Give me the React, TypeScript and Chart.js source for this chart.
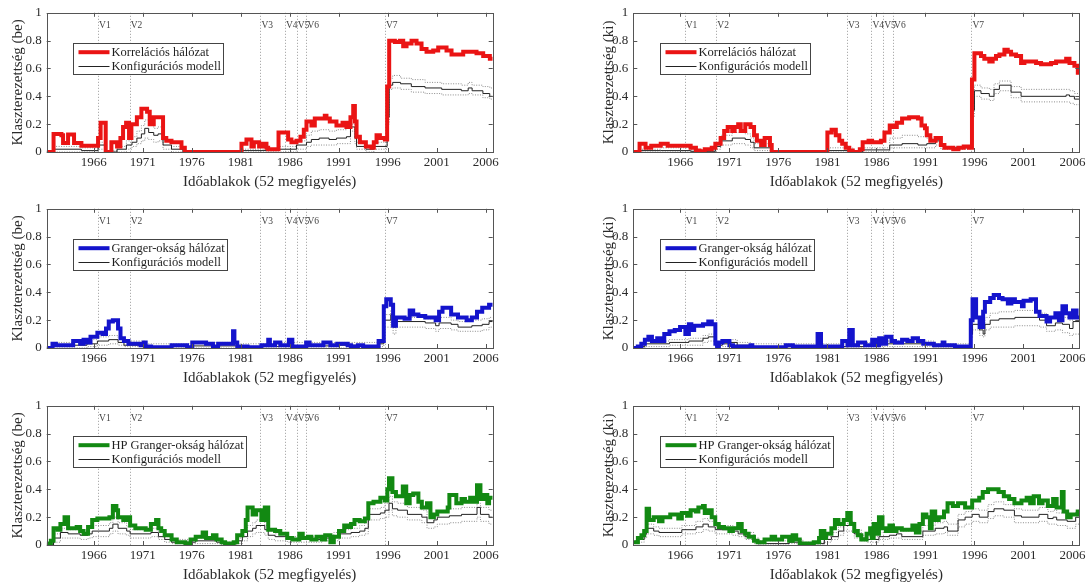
import React, { useEffect, useRef } from 'react';
import { Chart, registerables } from 'chart.js';

Chart.register(...registerables);

// ---------- shared axis data ----------
const TICK_YEARS = [1966, 1971, 1976, 1981, 1986, 1991, 1996, 2001, 2006];
const Y_TICKS = [0, 0.2, 0.4, 0.6, 0.8, 1];
const EVENT_YEARS = [1966.44, 1969.67, 1983.0, 1985.5, 1986.7, 1987.7, 1995.7];
const EVENT_LABELS = ['V1', 'V2', 'V3', 'V4', 'V5', 'V6', 'V7'];
const X_MIN = 1961.2;
const X_MAX = 2006.7;
const X_TITLE = 'Időablakok (52 megfigyelés)';
const MODEL_LABEL = 'Konfigurációs modell';

// ---------- series: [year, value] (value holds until next year) ----------
const CORR_BE: number[][] = [
  [1961.2, 0], [1961.9, 0.13], [1962.7, 0.12], [1962.87, 0.065], [1963.38, 0.125], [1963.99, 0.065],
  [1964.74, 0.045], [1966.44, 0.1], [1966.7, 0.21], [1967.22, 0], [1967.8, 0.07], [1968.38, 0.04],
  [1968.72, 0.1], [1968.99, 0.18], [1969.3, 0.21], [1969.6, 0.1], [1969.84, 0.2], [1970.4, 0.25],
  [1970.86, 0.31], [1971.44, 0.29], [1971.71, 0.2], [1972.12, 0.25], [1973.07, 0.1], [1973.4, 0.08],
  [1973.93, 0.07], [1974.95, 0.03], [1975.29, 0], [1981.07, 0.06], [1981.58, 0.09], [1982.09, 0.04],
  [1982.33, 0.07], [1982.87, 0.04], [1983.21, 0.06], [1983.62, 0.03], [1983.79, 0.02], [1984.85, 0.14],
  [1985.83, 0.09], [1986.17, 0.07], [1986.68, 0.08], [1987.09, 0.11], [1987.43, 0.16], [1987.7, 0.22],
  [1988.21, 0.19], [1988.55, 0.24], [1989.57, 0.26], [1989.74, 0.24], [1990.08, 0.22], [1990.76, 0.19],
  [1991.38, 0.21], [1991.78, 0.18], [1992.19, 0.25], [1992.47, 0.33], [1992.64, 0.22], [1992.81, 0.11],
  [1993.15, 0.07], [1993.76, 0.04], [1994.34, 0.03], [1994.57, 0.07], [1994.85, 0.12], [1995.19, 0.1],
  [1995.7, 0.09], [1995.93, 0.47], [1996.14, 0.8], [1996.72, 0.79], [1997.23, 0.8], [1997.57, 0.76],
  [1997.91, 0.78], [1998.42, 0.8], [1998.93, 0.78], [1999.44, 0.74], [1999.95, 0.72], [2000.63, 0.73],
  [2001.14, 0.75], [2001.99, 0.73], [2002.5, 0.7], [2003.69, 0.72], [2005.05, 0.71], [2005.73, 0.69],
  [2006.41, 0.67], [2006.7, 0.67],
];
// model rows: [year, mean, lower, upper]
const CORR_BE_MODEL: number[][] = [
  [1961.2, 0, 0, 0], [1961.9, 0.02, 0, 0.04], [1964.74, 0.01, 0, 0.03], [1966.44, 0.05, 0.02, 0.07],
  [1967.22, 0, 0, 0.01], [1968.38, 0.02, 0, 0.04], [1969.33, 0.05, 0.02, 0.08], [1969.9, 0.07, 0.04, 0.11],
  [1970.4, 0.1, 0.06, 0.15], [1970.86, 0.13, 0.08, 0.19], [1971.2, 0.17, 0.1, 0.23], [1971.6, 0.14, 0.09, 0.2],
  [1972.12, 0.12, 0.07, 0.17], [1972.56, 0.13, 0.08, 0.18], [1973.07, 0.05, 0.02, 0.08], [1973.93, 0.02, 0, 0.04],
  [1975.1, 0, 0, 0], [1981.07, 0.01, 0, 0.02], [1984.85, 0.02, 0, 0.04], [1986.68, 0.05, 0.02, 0.08],
  [1987.7, 0.07, 0.04, 0.12], [1988.2, 0.09, 0.05, 0.15], [1989.0, 0.1, 0.05, 0.16], [1990.0, 0.09, 0.05, 0.15],
  [1990.76, 0.1, 0.06, 0.16], [1991.78, 0.11, 0.06, 0.17], [1992.19, 0.18, 0.15, 0.2], [1992.64, 0.1, 0.06, 0.15],
  [1992.81, 0.04, 0.02, 0.07], [1993.76, 0.02, 0, 0.04], [1994.57, 0.04, 0.02, 0.07], [1995.93, 0.25, 0.2, 0.3],
  [1996.14, 0.48, 0.45, 0.53], [1996.5, 0.5, 0.46, 0.55], [1997.3, 0.49, 0.45, 0.53], [1998.4, 0.47, 0.43, 0.52],
  [1999.8, 0.46, 0.42, 0.5], [2001.5, 0.45, 0.41, 0.49], [2003.5, 0.44, 0.41, 0.48], [2004.2, 0.46, 0.42, 0.5],
  [2004.6, 0.44, 0.41, 0.48], [2005.7, 0.42, 0.39, 0.47], [2006.4, 0.4, 0.38, 0.46], [2006.7, 0.4, 0.38, 0.46],
];

const CORR_KI: number[][] = [
  [1961.1, 0], [1961.84, 0.06], [1962.45, 0.03], [1963.03, 0.045], [1964.0, 0.06], [1964.71, 0.045],
  [1967.05, 0.03], [1967.59, 0.01], [1967.95, 0.005], [1968.49, 0.02], [1969.2, 0.03], [1969.57, 0.06],
  [1970.11, 0.1], [1970.47, 0.15], [1970.83, 0.18], [1971.29, 0.15], [1971.54, 0.18], [1971.9, 0.2],
  [1972.16, 0.15], [1972.62, 0.2], [1973.16, 0.18], [1973.52, 0.12], [1973.81, 0.08], [1974.24, 0.05],
  [1974.6, 0.1], [1975.14, 0.05], [1975.32, 0], [1981.0, 0.14], [1981.43, 0.16], [1981.86, 0.12],
  [1982.22, 0.08], [1982.51, 0.06], [1982.87, 0.03], [1983.23, 0.01], [1983.59, 0], [1984.31, 0.02],
  [1984.6, 0.07], [1985.2, 0.08], [1985.56, 0.07], [1986.46, 0.08], [1986.82, 0.14], [1987.36, 0.19],
  [1987.72, 0.18], [1988.08, 0.21], [1988.62, 0.24], [1989.34, 0.25], [1990.24, 0.24], [1990.6, 0.19],
  [1990.96, 0.17], [1991.14, 0.12], [1991.5, 0.08], [1992.04, 0.1], [1992.58, 0.05], [1992.94, 0.03],
  [1993.84, 0.02], [1994.37, 0.03], [1994.91, 0.04], [1995.45, 0.03], [1995.75, 0.52], [1996.0, 0.71],
  [1996.67, 0.69], [1997.01, 0.67], [1997.52, 0.65], [1997.86, 0.67], [1998.2, 0.69], [1998.55, 0.7],
  [1999.06, 0.735], [1999.4, 0.72], [1999.74, 0.7], [2000.25, 0.69], [2000.76, 0.64], [2001.1, 0.65],
  [2002.29, 0.64], [2002.8, 0.63], [2003.82, 0.64], [2004.33, 0.65], [2005.36, 0.67], [2005.7, 0.64],
  [2006.2, 0.62], [2006.55, 0.57], [2006.75, 0.57],
];
const CORR_KI_MODEL: number[][] = [
  [1961.1, 0, 0, 0], [1961.84, 0.01, 0, 0.02], [1964.0, 0.01, 0, 0.03], [1967.05, 0.005, 0, 0.015],
  [1969.57, 0.04, 0.02, 0.07], [1970.11, 0.08, 0.05, 0.12], [1971.3, 0.1, 0.06, 0.14], [1972.62, 0.09, 0.05, 0.13],
  [1973.16, 0.07, 0.03, 0.1], [1973.52, 0.03, 0.01, 0.06], [1975.32, 0, 0, 0], [1981.0, 0.01, 0, 0.03],
  [1983.59, 0, 0, 0.01], [1984.6, 0.015, 0, 0.03], [1987.36, 0.05, 0.03, 0.1], [1988.62, 0.06, 0.03, 0.12],
  [1990.24, 0.05, 0.03, 0.11], [1991.14, 0.06, 0.03, 0.1], [1992.04, 0.08, 0.05, 0.1], [1992.58, 0.04, 0.02, 0.06],
  [1992.94, 0.03, 0.02, 0.04], [1995.75, 0.3, 0.25, 0.35], [1996.0, 0.44, 0.4, 0.48], [1996.67, 0.42, 0.38, 0.46],
  [1997.52, 0.4, 0.37, 0.45], [1998.0, 0.45, 0.42, 0.49], [1998.55, 0.48, 0.44, 0.51], [1999.74, 0.43, 0.39, 0.47],
  [2000.76, 0.4, 0.36, 0.45], [2005.36, 0.41, 0.36, 0.45], [2005.7, 0.4, 0.35, 0.44], [2006.2, 0.38, 0.34, 0.42],
  [2006.75, 0.38, 0.34, 0.42],
];

const GRANGER_BE: number[][] = [
  [1961.2, 0], [1961.79, 0.03], [1962.14, 0.02], [1963.9, 0.05], [1964.61, 0.03], [1964.96, 0.06],
  [1965.31, 0.04], [1965.67, 0.08], [1966.37, 0.11], [1966.9, 0.1], [1967.25, 0.14], [1967.53, 0.19],
  [1967.95, 0.2], [1968.48, 0.14], [1968.73, 0.07], [1969.08, 0.05], [1969.54, 0.03], [1970.77, 0.02],
  [1971.12, 0.04], [1971.3, 0.01], [1971.83, 0.005], [1973.94, 0.02], [1975.52, 0.005], [1976.05, 0.04],
  [1977.46, 0.03], [1978.16, 0.01], [1978.69, 0.03], [1980.21, 0.12], [1980.35, 0.04], [1980.64, 0.01],
  [1981.69, 0.005], [1983.1, 0.02], [1983.8, 0.06], [1983.97, 0.02], [1984.5, 0.04], [1985.03, 0.02],
  [1985.91, 0.06], [1986.26, 0.01], [1987.67, 0.04], [1988.02, 0.02], [1989.43, 0.04], [1990.14, 0.02],
  [1990.84, 0.03], [1991.9, 0.02], [1992.25, 0.01], [1992.95, 0.02], [1993.48, 0.01], [1995.06, 0.05],
  [1995.59, 0.3], [1995.84, 0.35], [1996.3, 0.31], [1996.54, 0.16], [1996.83, 0.22], [1997.71, 0.21],
  [1998.23, 0.27], [1998.59, 0.24], [1999.12, 0.23], [1999.82, 0.22], [2000.88, 0.2], [2001.23, 0.26],
  [2001.58, 0.29], [2002.46, 0.24], [2003.16, 0.22], [2004.04, 0.2], [2004.57, 0.22], [2005.1, 0.26],
  [2005.63, 0.29], [2006.33, 0.31], [2006.7, 0.31],
];
const GRANGER_BE_MODEL: number[][] = [
  [1961.2, 0, 0, 0], [1961.79, 0.02, 0, 0.04], [1965.31, 0.03, 0.01, 0.06], [1966.37, 0.05, 0.02, 0.08],
  [1967.53, 0.06, 0.03, 0.09], [1968.48, 0.04, 0.02, 0.07], [1969.08, 0.02, 0.01, 0.05], [1971.3, 0.01, 0, 0.03],
  [1976.05, 0.015, 0, 0.04], [1980.64, 0.01, 0, 0.03], [1985.03, 0.015, 0, 0.04], [1990.84, 0.02, 0, 0.04],
  [1993.48, 0.01, 0, 0.04], [1995.06, 0.03, 0.01, 0.06], [1995.59, 0.2, 0.15, 0.24], [1996.3, 0.24, 0.2, 0.27],
  [1996.54, 0.15, 0.1, 0.18], [1996.83, 0.19, 0.15, 0.22], [1999.82, 0.18, 0.14, 0.21], [2000.88, 0.16, 0.12, 0.2],
  [2001.23, 0.18, 0.14, 0.22], [2002.46, 0.17, 0.13, 0.2], [2003.16, 0.15, 0.12, 0.19], [2004.57, 0.16, 0.12, 0.2],
  [2005.63, 0.17, 0.13, 0.21], [2006.33, 0.19, 0.15, 0.22], [2006.7, 0.19, 0.15, 0.22],
];

const GRANGER_KI: number[][] = [
  [1961.12, 0], [1961.66, 0.01], [1962.02, 0.03], [1962.38, 0.06], [1962.74, 0.08], [1963.1, 0.05],
  [1963.64, 0.07], [1964.0, 0.05], [1964.36, 0.1], [1964.89, 0.12], [1965.43, 0.13], [1965.97, 0.15],
  [1966.51, 0.1], [1966.87, 0.17], [1967.12, 0.13], [1967.41, 0.16], [1968.31, 0.17], [1968.85, 0.19],
  [1969.21, 0.17], [1969.57, 0.03], [1969.75, 0.01], [1969.93, 0.04], [1970.29, 0.05], [1971.01, 0.02],
  [1971.37, 0.01], [1973.16, 0.02], [1973.34, 0.005], [1976.76, 0.02], [1977.48, 0.01], [1980.0, 0.1],
  [1980.35, 0.01], [1982.51, 0.05], [1983.05, 0.02], [1983.23, 0.13], [1983.59, 0.02], [1984.13, 0.04],
  [1984.85, 0.02], [1985.57, 0.06], [1985.92, 0.02], [1986.28, 0.07], [1986.64, 0.03], [1987.0, 0.08],
  [1987.54, 0.05], [1987.9, 0.04], [1988.62, 0.06], [1989.16, 0.05], [1989.7, 0.07], [1990.24, 0.05],
  [1990.78, 0.03], [1991.86, 0.02], [1992.76, 0.04], [1992.94, 0.02], [1994.01, 0.01], [1995.63, 0.2],
  [1995.81, 0.35], [1996.17, 0.22], [1996.53, 0.15], [1996.89, 0.26], [1997.07, 0.33], [1997.61, 0.36],
  [1997.97, 0.38], [1998.51, 0.36], [1998.87, 0.35], [1999.41, 0.32], [1999.77, 0.35], [2000.13, 0.33],
  [2000.85, 0.3], [2001.02, 0.34], [2001.74, 0.35], [2002.28, 0.26], [2002.64, 0.23], [2003.36, 0.19],
  [2003.72, 0.22], [2004.26, 0.25], [2004.62, 0.2], [2004.98, 0.3], [2005.34, 0.25], [2005.7, 0.22],
  [2006.06, 0.27], [2006.42, 0.22], [2006.75, 0.22],
];
const GRANGER_KI_MODEL: number[][] = [
  [1961.12, 0, 0, 0], [1961.66, 0.01, 0, 0.02], [1962.38, 0.03, 0.01, 0.05], [1964.89, 0.04, 0.02, 0.06],
  [1966.87, 0.05, 0.02, 0.07], [1968.31, 0.07, 0.04, 0.09], [1968.85, 0.08, 0.05, 0.1], [1969.57, 0.02, 0.01, 0.04],
  [1970.29, 0.03, 0.01, 0.05], [1971.01, 0.04, 0.02, 0.06], [1971.8, 0.02, 0, 0.04], [1973.16, 0.01, 0, 0.03],
  [1984.85, 0.02, 0, 0.04], [1986.28, 0.03, 0.01, 0.05], [1991.86, 0.01, 0, 0.03], [1995.63, 0.1, 0.07, 0.14],
  [1995.81, 0.17, 0.13, 0.22], [1996.53, 0.13, 0.09, 0.17], [1996.89, 0.1, 0.08, 0.14], [1997.07, 0.17, 0.13, 0.22],
  [1997.61, 0.2, 0.15, 0.25], [1998.51, 0.21, 0.15, 0.26], [2000.13, 0.22, 0.16, 0.27], [2002.64, 0.2, 0.15, 0.25],
  [2003.36, 0.16, 0.12, 0.22], [2004.26, 0.18, 0.13, 0.23], [2004.98, 0.17, 0.11, 0.22], [2005.7, 0.14, 0.09, 0.2],
  [2006.06, 0.19, 0.1, 0.22], [2006.75, 0.19, 0.1, 0.22],
];

const HP_BE: number[][] = [
  [1961.2, 0.01], [1961.62, 0.03], [1961.9, 0.12], [1962.32, 0.11], [1962.6, 0.15], [1963.02, 0.2],
  [1963.38, 0.12], [1964.26, 0.13], [1964.61, 0.1], [1964.96, 0.08], [1965.42, 0.13], [1965.84, 0.18],
  [1966.37, 0.19], [1967.6, 0.2], [1967.95, 0.28], [1968.31, 0.25], [1968.48, 0.2], [1969.01, 0.18],
  [1969.36, 0.2], [1969.71, 0.14], [1970.24, 0.12], [1971.3, 0.11], [1971.83, 0.15], [1972.36, 0.18],
  [1972.6, 0.12], [1972.88, 0.1], [1973.24, 0.07], [1973.94, 0.04], [1974.47, 0.02], [1975.35, 0.01],
  [1975.88, 0.04], [1976.4, 0.06], [1977.11, 0.09], [1977.46, 0.05], [1978.16, 0.07], [1978.52, 0.04],
  [1979.05, 0.02], [1979.4, 0.01], [1980.28, 0.02], [1980.63, 0.07], [1981.16, 0.1], [1981.51, 0.18],
  [1981.69, 0.27], [1982.21, 0.22], [1982.57, 0.25], [1983.1, 0.18], [1983.45, 0.27], [1983.8, 0.11],
  [1984.5, 0.1], [1985.03, 0.08], [1985.74, 0.05], [1986.26, 0.04], [1986.97, 0.08], [1987.32, 0.05],
  [1987.85, 0.06], [1988.2, 0.04], [1988.73, 0.06], [1989.26, 0.04], [1989.61, 0.07], [1990.14, 0.02],
  [1990.49, 0.06], [1991.02, 0.1], [1991.55, 0.14], [1991.9, 0.13], [1992.25, 0.15], [1992.6, 0.18],
  [1993.13, 0.17], [1993.66, 0.19], [1994.01, 0.3], [1994.54, 0.31], [1995.24, 0.34], [1995.7, 0.32],
  [1995.95, 0.4], [1996.12, 0.48], [1996.47, 0.38], [1996.83, 0.35], [1997.53, 0.42], [1997.88, 0.3],
  [1998.23, 0.36], [1998.59, 0.37], [1999.12, 0.31], [1999.47, 0.27], [2000.0, 0.3], [2000.35, 0.2],
  [2000.7, 0.22], [2001.05, 0.24], [2002.11, 0.27], [2002.28, 0.36], [2002.99, 0.3], [2003.52, 0.33],
  [2003.87, 0.31], [2004.4, 0.34], [2004.75, 0.31], [2005.1, 0.43], [2005.45, 0.33], [2005.8, 0.36],
  [2006.15, 0.3], [2006.33, 0.34], [2006.7, 0.34],
];
const HP_BE_MODEL: number[][] = [
  [1961.2, 0, 0, 0.01], [1961.9, 0.05, 0.02, 0.08], [1962.6, 0.09, 0.05, 0.12], [1963.38, 0.08, 0.05, 0.11],
  [1964.61, 0.07, 0.04, 0.1], [1965.42, 0.08, 0.05, 0.12], [1965.84, 0.1, 0.06, 0.14], [1967.6, 0.12, 0.08, 0.16],
  [1967.95, 0.15, 0.1, 0.2], [1968.48, 0.12, 0.08, 0.16], [1969.36, 0.1, 0.07, 0.13], [1969.71, 0.08, 0.05, 0.11],
  [1971.83, 0.09, 0.06, 0.12], [1972.6, 0.06, 0.04, 0.09], [1973.24, 0.04, 0.02, 0.06], [1973.94, 0.02, 0.01, 0.04],
  [1976.4, 0.03, 0.01, 0.05], [1978.52, 0.02, 0.01, 0.03], [1979.05, 0.01, 0, 0.02], [1980.63, 0.03, 0.01, 0.05],
  [1981.16, 0.06, 0.03, 0.09], [1981.69, 0.1, 0.06, 0.14], [1982.21, 0.12, 0.08, 0.16], [1982.57, 0.14, 0.09, 0.18],
  [1983.45, 0.11, 0.07, 0.14], [1983.8, 0.07, 0.04, 0.1], [1984.5, 0.06, 0.03, 0.08], [1985.74, 0.04, 0.02, 0.06],
  [1989.26, 0.05, 0.03, 0.07], [1990.49, 0.06, 0.03, 0.09], [1991.02, 0.08, 0.05, 0.11], [1992.25, 0.09, 0.06, 0.12],
  [1993.13, 0.1, 0.07, 0.14], [1993.66, 0.12, 0.08, 0.16], [1994.01, 0.22, 0.18, 0.26], [1995.24, 0.23, 0.19, 0.27],
  [1995.7, 0.25, 0.2, 0.3], [1996.12, 0.3, 0.25, 0.35], [1996.47, 0.26, 0.21, 0.31], [1997.0, 0.25, 0.2, 0.3],
  [1998.0, 0.22, 0.18, 0.27], [1999.47, 0.2, 0.16, 0.25], [2000.0, 0.16, 0.12, 0.2], [2000.7, 0.18, 0.13, 0.22],
  [2001.05, 0.2, 0.15, 0.24], [2002.28, 0.21, 0.16, 0.26], [2003.52, 0.22, 0.17, 0.27], [2005.1, 0.27, 0.2, 0.3],
  [2005.45, 0.22, 0.17, 0.27], [2006.33, 0.2, 0.15, 0.25], [2006.7, 0.2, 0.15, 0.25],
];

const HP_KI: number[][] = [
  [1961.13, 0.02], [1961.67, 0.05], [1962.03, 0.07], [1962.31, 0.1], [1962.56, 0.26], [1962.81, 0.18],
  [1963.28, 0.2], [1963.82, 0.17], [1964.18, 0.2], [1964.97, 0.22], [1965.79, 0.19], [1966.15, 0.23],
  [1966.69, 0.21], [1967.05, 0.25], [1967.59, 0.24], [1967.84, 0.27], [1968.31, 0.28], [1968.49, 0.23],
  [1968.85, 0.25], [1969.2, 0.2], [1969.56, 0.15], [1969.92, 0.13], [1970.46, 0.12], [1971.0, 0.1],
  [1971.36, 0.12], [1971.9, 0.15], [1972.26, 0.1], [1972.61, 0.08], [1972.97, 0.06], [1973.51, 0.03],
  [1973.87, 0.02], [1974.59, 0.04], [1975.31, 0.06], [1975.67, 0.04], [1976.38, 0.06], [1977.1, 0.03],
  [1977.46, 0.07], [1977.82, 0.04], [1978.18, 0.01], [1979.61, 0.02], [1980.15, 0.05], [1980.33, 0.1],
  [1980.69, 0.05], [1980.87, 0.08], [1981.41, 0.12], [1981.77, 0.18], [1982.13, 0.15], [1982.67, 0.18],
  [1983.03, 0.23], [1983.38, 0.15], [1983.74, 0.1], [1984.1, 0.07], [1984.46, 0.04], [1985.0, 0.08],
  [1985.36, 0.12], [1985.54, 0.05], [1985.72, 0.15], [1985.9, 0.08], [1986.26, 0.2], [1986.62, 0.12],
  [1986.97, 0.1], [1987.33, 0.14], [1987.69, 0.1], [1988.05, 0.12], [1988.59, 0.11], [1989.67, 0.14],
  [1990.03, 0.09], [1990.39, 0.15], [1990.74, 0.22], [1991.1, 0.2], [1991.46, 0.12], [1991.64, 0.24],
  [1992.0, 0.18], [1992.36, 0.2], [1992.9, 0.24], [1993.26, 0.3], [1993.8, 0.28], [1994.33, 0.3],
  [1995.05, 0.27], [1995.77, 0.32], [1996.49, 0.34], [1996.85, 0.38], [1997.39, 0.4], [1998.46, 0.38],
  [1999.0, 0.35], [1999.54, 0.33], [2000.08, 0.3], [2000.8, 0.32], [2001.33, 0.34], [2001.69, 0.3],
  [2002.05, 0.35], [2002.59, 0.3], [2002.95, 0.32], [2003.49, 0.28], [2004.03, 0.33], [2004.39, 0.27],
  [2004.92, 0.38], [2005.1, 0.24], [2005.46, 0.2], [2005.82, 0.22], [2006.54, 0.24], [2006.75, 0.24],
];
const HP_KI_MODEL: number[][] = [
  [1961.13, 0.02, 0.01, 0.03], [1961.67, 0.04, 0.02, 0.06], [1962.31, 0.08, 0.05, 0.11], [1962.56, 0.12, 0.08, 0.15],
  [1963.28, 0.1, 0.07, 0.13], [1963.82, 0.09, 0.06, 0.12], [1966.15, 0.11, 0.08, 0.14], [1967.59, 0.13, 0.09, 0.17],
  [1968.31, 0.15, 0.11, 0.19], [1968.85, 0.13, 0.1, 0.17], [1969.56, 0.11, 0.08, 0.14], [1971.36, 0.1, 0.07, 0.13],
  [1971.9, 0.08, 0.06, 0.11], [1972.61, 0.06, 0.04, 0.09], [1973.51, 0.03, 0.01, 0.05], [1974.0, 0.01, 0, 0.03],
  [1977.1, 0.02, 0.01, 0.04], [1978.5, 0.01, 0, 0.02], [1980.69, 0.04, 0.02, 0.06], [1981.41, 0.06, 0.04, 0.09],
  [1982.13, 0.1, 0.07, 0.13], [1982.67, 0.14, 0.1, 0.17], [1983.74, 0.08, 0.05, 0.11], [1984.46, 0.05, 0.03, 0.07],
  [1985.0, 0.04, 0.02, 0.06], [1986.26, 0.06, 0.04, 0.09], [1987.33, 0.07, 0.05, 0.11], [1988.05, 0.08, 0.05, 0.12],
  [1988.59, 0.06, 0.04, 0.1], [1990.74, 0.1, 0.07, 0.14], [1992.0, 0.12, 0.08, 0.16], [1992.9, 0.13, 0.09, 0.17],
  [1993.26, 0.1, 0.07, 0.15], [1994.33, 0.18, 0.13, 0.22], [1995.05, 0.2, 0.15, 0.24], [1995.77, 0.22, 0.17, 0.26],
  [1996.49, 0.2, 0.16, 0.25], [1997.39, 0.24, 0.19, 0.29], [1998.0, 0.26, 0.21, 0.31], [1999.0, 0.25, 0.2, 0.29],
  [2000.08, 0.21, 0.16, 0.26], [2000.8, 0.2, 0.16, 0.25], [2002.59, 0.22, 0.17, 0.27], [2003.49, 0.19, 0.15, 0.24],
  [2004.03, 0.2, 0.15, 0.25], [2004.39, 0.18, 0.14, 0.23], [2005.46, 0.17, 0.12, 0.22], [2006.33, 0.2, 0.15, 0.24],
  [2006.75, 0.2, 0.15, 0.24],
];

// ---------- panels ----------
type PanelDef = {
  main: number[][];
  model: number[][];
  color: string;
  label: string;
  yTitle: string;
  col: number;
  row: number;
};

const RED = '#ea1414';
const BLUE = '#1414cc';
const GREEN = '#128912';

const PANELS: PanelDef[] = [
  { main: CORR_BE, model: CORR_BE_MODEL, color: RED, label: 'Korrelációs hálózat', yTitle: 'Klaszterezettség (be)', col: 0, row: 0 },
  { main: CORR_KI, model: CORR_KI_MODEL, color: RED, label: 'Korrelációs hálózat', yTitle: 'Klaszterezettség (ki)', col: 1, row: 0 },
  { main: GRANGER_BE, model: GRANGER_BE_MODEL, color: BLUE, label: 'Granger-okság hálózat', yTitle: 'Klaszterezettség (be)', col: 0, row: 1 },
  { main: GRANGER_KI, model: GRANGER_KI_MODEL, color: BLUE, label: 'Granger-okság hálózat', yTitle: 'Klaszterezettség (ki)', col: 1, row: 1 },
  { main: HP_BE, model: HP_BE_MODEL, color: GREEN, label: 'HP Granger-okság hálózat', yTitle: 'Klaszterezettség (be)', col: 0, row: 2 },
  { main: HP_KI, model: HP_KI_MODEL, color: GREEN, label: 'HP Granger-okság hálózat', yTitle: 'Klaszterezettség (ki)', col: 1, row: 2 },
];

// layout (pixels)
const COL_LAYOUT = [
  { left: 0, width: 546, yAxisW: 46.7, padRight: 53.3, titlePad: 8.6 },
  { left: 586, width: 506, yAxisW: 47.3, padRight: 12.7, titlePad: 13.6 },
];
const ROW_PLOT_TOP = [12, 208, 405];
const PAD_TOP = 12;
const PLOT_H = 140;
const X_AXIS_H = 40;

const FONT = "'Liberation Serif', 'Times New Roman', serif";
const TEXT_COLOR = '#2a2a2a';

function makePlugins(p: PanelDef) {
  const events = {
    id: 'events',
    beforeDatasetsDraw(chart: any) {
      const { ctx, chartArea, scales } = chart;
      ctx.save();
      ctx.strokeStyle = '#9a9a9a';
      ctx.lineWidth = 1;
      ctx.setLineDash([1, 2]);
      EVENT_YEARS.forEach((yr) => {
        const px = Math.round(scales.x.getPixelForValue(yr)) + 0.5;
        ctx.beginPath();
        ctx.moveTo(px, chartArea.top);
        ctx.lineTo(px, chartArea.bottom);
        ctx.stroke();
      });
      ctx.setLineDash([]);
      ctx.fillStyle = '#444';
      ctx.font = `9.5px ${FONT}`;
      ctx.textBaseline = 'middle';
      ctx.textAlign = 'left';
      EVENT_YEARS.forEach((yr, i) => {
        const px = scales.x.getPixelForValue(yr);
        ctx.fillText(EVENT_LABELS[i], px + 1, chartArea.top + 13);
      });
      ctx.restore();
    },
  };
  const frame = {
    id: 'frame',
    afterDatasetsDraw(chart: any) {
      const { ctx, chartArea, scales } = chart;
      const { left, right, top, bottom } = chartArea;
      ctx.save();
      ctx.strokeStyle = '#555';
      ctx.lineWidth = 1;
      ctx.strokeRect(Math.round(left) + 0.5, Math.round(top) + 0.5, Math.round(right - left), Math.round(bottom - top));
      ctx.beginPath();
      TICK_YEARS.forEach((v) => {
        const px = Math.round(scales.x.getPixelForValue(v)) + 0.5;
        ctx.moveTo(px, bottom);
        ctx.lineTo(px, bottom - 4);
        ctx.moveTo(px, top);
        ctx.lineTo(px, top + 4);
      });
      Y_TICKS.forEach((v) => {
        const py = Math.round(scales.y.getPixelForValue(v)) + 0.5;
        ctx.moveTo(left, py);
        ctx.lineTo(left + 4, py);
        ctx.moveTo(right, py);
        ctx.lineTo(right - 4, py);
      });
      ctx.stroke();
      ctx.restore();
    },
  };
  const legend = {
    id: 'boxLegend',
    afterDraw(chart: any) {
      const { ctx, chartArea } = chart;
      ctx.save();
      ctx.font = `12.5px ${FONT}`;
      const tw = Math.max(ctx.measureText(p.label).width, ctx.measureText(MODEL_LABEL).width);
      const bx = Math.round(chartArea.left + 26.5) + 0.5;
      const by = Math.round(chartArea.top + 30) + 0.5;
      const bw = Math.round(38 + tw + 3);
      const bh = 31;
      ctx.fillStyle = '#fff';
      ctx.fillRect(bx, by, bw, bh);
      ctx.strokeStyle = '#444';
      ctx.lineWidth = 1;
      ctx.strokeRect(bx, by, bw, bh);
      const r1 = by + 8.7;
      const r2 = by + 22.3;
      ctx.strokeStyle = p.color;
      ctx.lineWidth = 4;
      ctx.beginPath();
      ctx.moveTo(bx + 5, r1);
      ctx.lineTo(bx + 36, r1);
      ctx.stroke();
      ctx.strokeStyle = '#222';
      ctx.lineWidth = 1;
      ctx.beginPath();
      ctx.moveTo(bx + 5, Math.round(r2) + 0.5);
      ctx.lineTo(bx + 36, Math.round(r2) + 0.5);
      ctx.stroke();
      ctx.fillStyle = '#1e1e1e';
      ctx.textBaseline = 'middle';
      ctx.textAlign = 'left';
      ctx.fillText(p.label, bx + 38, r1 + 0.5);
      ctx.fillText(MODEL_LABEL, bx + 38, r2 + 0.5);
      ctx.restore();
    },
  };
  return [events, frame, legend];
}

function Panel({ p }: { p: PanelDef }) {
  const ref = useRef<HTMLCanvasElement | null>(null);
  const col = COL_LAYOUT[p.col];
  const canvasTop = ROW_PLOT_TOP[p.row] - PAD_TOP;
  const canvasH = PAD_TOP + PLOT_H + X_AXIS_H;

  useEffect(() => {
    if (!ref.current) return;
    const toPts = (rows: number[][], idx: number) => rows.map((r) => ({ x: r[0], y: r[idx] }));
    const common = { pointRadius: 0, pointHoverRadius: 0, stepped: 'before' as const, fill: false, borderJoinStyle: 'miter' as const, borderCapStyle: 'butt' as const };
    const chart = new Chart(ref.current, {
      type: 'line',
      data: {
        datasets: [
          { ...common, label: p.label, data: toPts(p.main, 1), borderColor: p.color, borderWidth: 4 },
          { ...common, label: MODEL_LABEL, data: toPts(p.model, 1), borderColor: '#222', borderWidth: 1 },
          { ...common, label: 'felső', data: toPts(p.model, 3), borderColor: '#8c8c8c', borderWidth: 1, borderDash: [1, 1.5] },
          { ...common, label: 'alsó', data: toPts(p.model, 2), borderColor: '#8c8c8c', borderWidth: 1, borderDash: [1, 1.5] },
        ],
      },
      options: {
        animation: false,
        responsive: false,
        maintainAspectRatio: false,
        events: [],
        layout: { padding: { left: 0, right: col.padRight, top: PAD_TOP, bottom: 0 } },
        plugins: { legend: { display: false }, tooltip: { enabled: false }, title: { display: false } },
        scales: {
          x: {
            type: 'linear',
            min: X_MIN,
            max: X_MAX,
            grid: { display: false, drawTicks: false },
            border: { display: false },
            afterBuildTicks: (axis: any) => { axis.ticks = TICK_YEARS.map((v) => ({ value: v })); },
            afterFit: (axis: any) => { axis.height = X_AXIS_H; },
            ticks: {
              autoSkip: false,
              maxRotation: 0,
              padding: 3,
              color: TEXT_COLOR,
              font: { family: FONT, size: 13 },
              callback: (v: any) => String(v),
            },
            title: {
              display: true,
              text: X_TITLE,
              color: TEXT_COLOR,
              font: { family: FONT, size: 15 },
              padding: { top: 0, bottom: 1 },
            },
          },
          y: {
            type: 'linear',
            min: 0,
            max: 1,
            grid: { display: false, drawTicks: false },
            border: { display: false },
            afterBuildTicks: (axis: any) => { axis.ticks = Y_TICKS.map((v) => ({ value: v })); },
            afterFit: (axis: any) => { axis.width = col.yAxisW; },
            ticks: {
              padding: 5,
              color: TEXT_COLOR,
              font: { family: FONT, size: 13 },
              callback: (v: any) => String(v),
            },
            title: {
              display: true,
              text: p.yTitle,
              color: TEXT_COLOR,
              font: { family: FONT, size: 15 },
              padding: { top: col.titlePad, bottom: 0 },
            },
          },
        },
      },
      plugins: makePlugins(p),
    } as any);
    return () => chart.destroy();
  }, [p]);

  return (
    <canvas
      ref={ref}
      width={col.width}
      height={canvasH}
      style={{ position: 'absolute', left: col.left, top: canvasTop, width: col.width, height: canvasH }}
    />
  );
}

export default function App() {
  return (
    <div style={{ position: 'absolute', left: 0, top: 0, width: 1092, height: 585, background: '#fff', overflow: 'hidden' }}>
      {PANELS.map((p, i) => (
        <Panel key={i} p={p} />
      ))}
    </div>
  );
}
